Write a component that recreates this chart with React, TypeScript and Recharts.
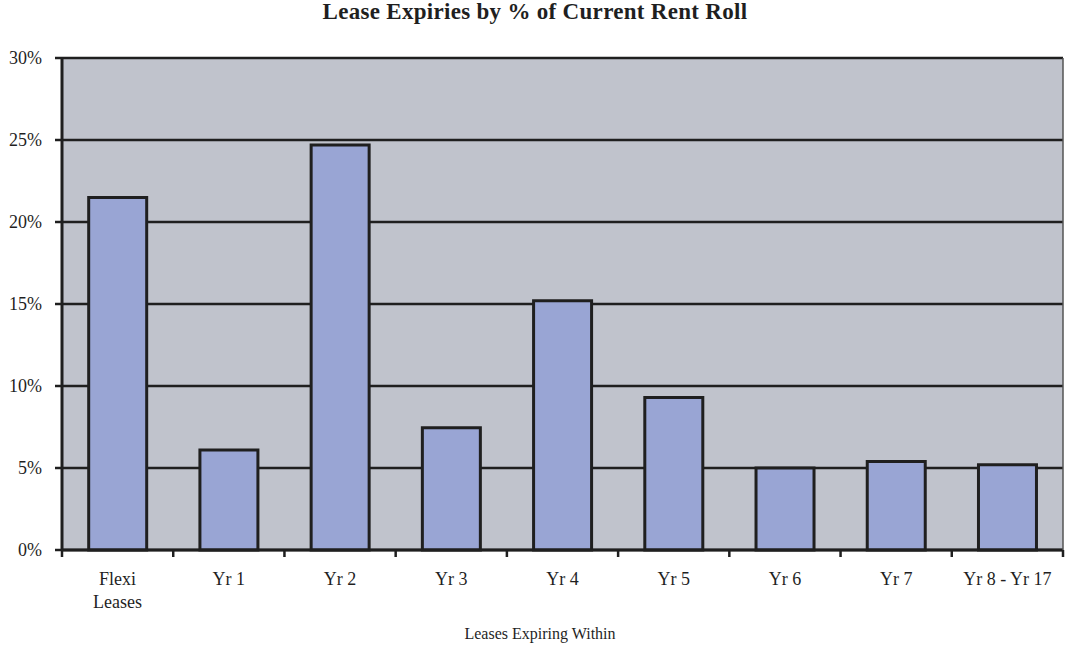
import type { FC } from 'react';
import { BarChart, Bar, XAxis, YAxis, CartesianGrid } from 'recharts';

const categories = ['Flexi\nLeases', 'Yr 1', 'Yr 2', 'Yr 3', 'Yr 4', 'Yr 5', 'Yr 6', 'Yr 7', 'Yr 8 - Yr 17'];
const expiryShare = [0.215, 0.061, 0.247, 0.0745, 0.152, 0.093, 0.05, 0.054, 0.052];
const yTicks = [0, 0.05, 0.1, 0.15, 0.2, 0.25, 0.3];
const edgeTicks = [0, 1, 2, 3, 4, 5, 6, 7, 8, 9];

const data = categories.map((name, i) => ({ name, value: expiryShare[i], edge: 0 }));

const FONT = '"Liberation Serif", "Times New Roman", serif';
const INK = '#1f1f1f';

const CategoryTick: FC<{ x?: number; y?: number; payload?: { value: string } }> = ({ x = 0, y = 0, payload }) => {
  const lines = (payload?.value ?? '').split('\n');
  return (
    <text x={x} y={y} textAnchor="middle" fill={INK} fontFamily={FONT} fontSize={18}>
      {lines.map((line, i) => (
        <tspan key={i} x={x} dy={23}>
          {line}
        </tspan>
      ))}
    </text>
  );
};

export default function App() {
  return (
    <div style={{ position: 'absolute', left: 0, top: 0, width: 1065, height: 648, background: '#fff' }}>
      <div
        style={{
          position: 'absolute',
          top: 0,
          left: 5,
          width: 1060,
          textAlign: 'center',
          fontFamily: FONT,
          fontWeight: 'bold',
          fontSize: 23,
          lineHeight: '23px',
          letterSpacing: 0.3,
          color: INK,
        }}
      >
        Lease Expiries by % of Current Rent Roll
      </div>
      <BarChart
        width={1065}
        height={648}
        data={data}
        margin={{ top: 58, right: 1, bottom: 38, left: 0 }}
        barCategoryGap="24%"
      >
        <CartesianGrid
          xAxisId={1}
          vertical={false}
          fill="#c0c3cc"
          fillOpacity={1}
          stroke={INK}
          strokeWidth={2.5}
          horizontalValues={yTicks}
        />
        {/* boundary tick marks between categories */}
        <XAxis
          xAxisId={0}
          type="number"
          dataKey="edge"
          domain={[0, 9]}
          ticks={edgeTicks}
          tickFormatter={() => ''}
          tickSize={7}
          tickLine={{ stroke: INK, strokeWidth: 2.5 }}
          axisLine={{ stroke: INK, strokeWidth: 3 }}
          height={8}
        />
        <XAxis
          xAxisId={1}
          dataKey="name"
          interval={0}
          tickLine={false}
          axisLine={false}
          tick={<CategoryTick />}
          tickSize={0}
          tickMargin={4}
          height={52}
        />
        <YAxis
          domain={[0, 0.3]}
          ticks={yTicks}
          tickFormatter={(v: number) => `${Math.round(v * 100)}%`}
          tick={{ fill: INK, fontFamily: FONT, fontSize: 18 }}
          tickSize={7}
          tickMargin={13}
          tickLine={{ stroke: INK, strokeWidth: 2.5 }}
          axisLine={{ stroke: INK, strokeWidth: 3 }}
          width={62}
        />
        <YAxis
          yAxisId="right"
          orientation="right"
          domain={[0, 0.3]}
          tick={false}
          tickLine={false}
          axisLine={{ stroke: '#555', strokeWidth: 1.5 }}
          width={1}
        />
        <Bar
          xAxisId={1}
          dataKey="value"
          fill="#99a5d4"
          stroke={INK}
          strokeWidth={3}
          isAnimationActive={false}
        />
      </BarChart>
      <div
        style={{
          position: 'absolute',
          top: 625,
          left: 15,
          width: 1050,
          textAlign: 'center',
          fontFamily: FONT,
          fontSize: 16,
          color: INK,
        }}
      >
        Leases Expiring Within
      </div>
    </div>
  );
}
